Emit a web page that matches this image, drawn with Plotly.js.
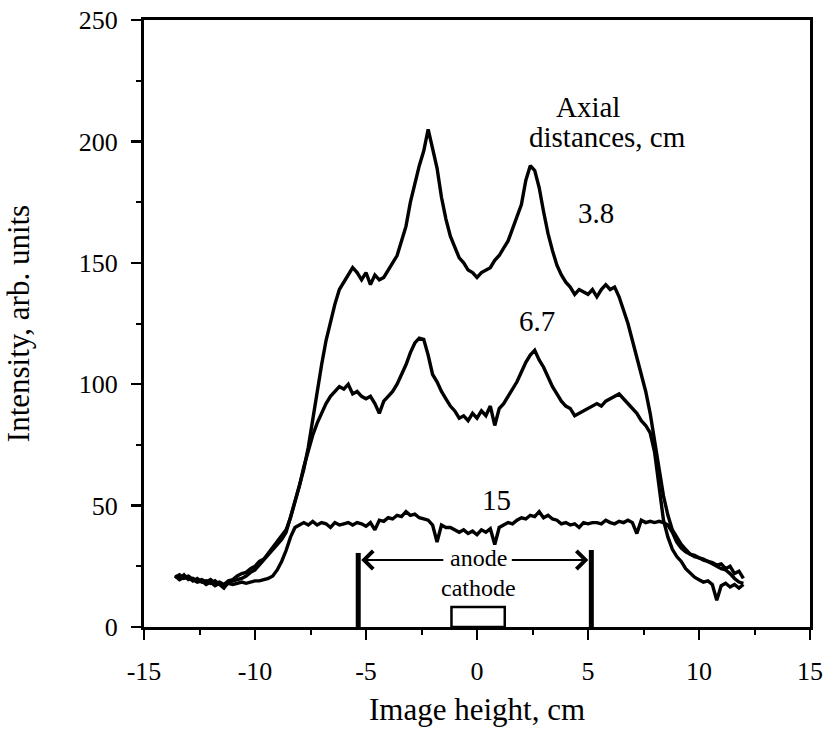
<!DOCTYPE html>
<html>
<head>
<meta charset="utf-8">
<script src="https://cdn.plot.ly/plotly-3.0.1.min.js"></script>
<style>
  html, body { margin: 0; padding: 0; background: #ffffff; }
  #chart { width: 823px; height: 739px; }
</style>
</head>
<body>
<div id="chart"></div>
<script>
// Image height positions (cm)
const imageHeight = [
  -13.6,-13.4,-13.2,-13.0,-12.8,-12.6,-12.4,-12.2,-12.0,-11.8,
  -11.6,-11.4,-11.2,-11.0,-10.8,-10.6,-10.4,-10.2,-10.0,-9.8,
  -9.6,-9.4,-9.2,-9.0,-8.8,-8.6,-8.4,-8.2,-8.0,-7.8,
  -7.6,-7.4,-7.2,-7.0,-6.8,-6.6,-6.4,-6.2,-6.0,-5.8,
  -5.6,-5.4,-5.2,-5.0,-4.8,-4.6,-4.4,-4.2,-4.0,-3.8,
  -3.6,-3.4,-3.2,-3.0,-2.8,-2.6,-2.4,-2.2,-2.0,-1.8,
  -1.6,-1.4,-1.2,-1.0,-0.8,-0.6,-0.4,-0.2,0.0,0.2,
  0.4,0.6,0.8,1.0,1.2,1.4,1.6,1.8,2.0,2.2,
  2.4,2.6,2.8,3.0,3.2,3.4,3.6,3.8,4.0,4.2,
  4.4,4.6,4.8,5.0,5.2,5.4,5.6,5.8,6.0,6.2,
  6.4,6.6,6.8,7.0,7.2,7.4,7.6,7.8,8.0,8.2,
  8.4,8.6,8.8,9.0,9.2,9.4,9.6,9.8,10.0,10.2,
  10.4,10.6,10.8,11.0,11.2,11.4,11.6,11.8,12.0
];

// Intensity at axial distance 3.8 cm
const intensity38 = [
  21,20,21.5,19.5,20,19,19.5,18.5,19.5,18,
  18.5,17.5,19,19.5,21,22,22.5,24,25,27,
  28,30.5,33,35,37.5,40,45,52,58,65,
  74,86,98,108,118,126,133,139,142,145,
  148,146,143,146,141,145,143,144,147,150,
  153,159,165,175,183,190,196,205,197,189,
  177,168,161,156,152,150,147,146,144,146,
  147,148,151,153,156,159,164,169,174,184,
  190,188,181,171,162,155,149,145,142,140,
  137,139,138,137,139,136,139,141,139,140,
  136,131,125,118,111,105,97,88,76,64,
  54,46,40,37,34,32,30,29,28.5,27.5,
  27,26,25,24,23.5,22,20,18.5,18
];

// Intensity at axial distance 6.7 cm
const intensity67 = [
  20.5,21.5,20,20.5,19,20,18.5,19,18,19,
  17.5,16,18.5,19,19.5,20,21,22.5,23.5,25.5,
  27.5,29.5,31.5,34,36,39,45,51,58,66,
  73,79,84,88,92,95,97,99,98,100,
  96,97,95,94,95,92,88,93,95,97,
  100,104,108,113,117,119,118.5,112,104,101,
  97,94,91,89,86,87,85,88,86,89,
  87,91,83,90,92,95,98,101,105,109,
  112,114,110,107,103,99,96,93,91,90,
  87,88,89,90,91,92,91,93,94,95,
  96,94,92,90,88,85,83,80,72,58,
  44,37,32,29,27,24,22,20.5,19.5,18.5,
  19,17.5,11,17,18,16.5,17.5,16,17.5
];

// Intensity at axial distance 15 cm
const intensity15 = [
  21,19.5,20.5,21,19.5,18.5,19,17.5,18.5,17,
  18,16.5,18,17.5,18,18.5,18,18.5,19,19,
  19.5,20,21,23.5,27,31.5,37,41,42,43,
  42,43.5,42,43,42.5,41,43,42,42.5,43,
  42,43,42.5,41.5,43,40,44,43.5,45,44.5,
  46,45.5,47.5,46,46.5,45,44.5,44,42,35,
  42,41,41,40,39,40,38.5,39.5,38,40,
  39,40.5,34,41,42,43,42.5,44,45,44.5,
  46,45.5,47.5,45,46,44.5,44,42.5,43,42,
  42.5,41,43,42.5,43,43,42.5,44,43,42.5,
  43.5,43,44,43,38.5,44,43,43.5,43,43.5,
  43,42,39,35,32.5,31,30,29.5,28.5,28,
  27,26.5,25.5,26,24,25,22,23,20
];

const curveLabels = ['3.8', '6.7', '15'];
const labelX = [5.36, 2.7, 0.86];
const labelY = [170.5, 126, 52.3];

// Axis ticks
const xTickVals = [-15, -10, -5, 0, 5, 10, 15];
const xTickText = ['-15', '-10', '-5', '0', '5', '10', '15'];
const yTickVals = [0, 50, 100, 150, 200, 250];
const yTickText = ['0', '50', '100', '150', '200', '250'];

// Electrode markers (cm / arb. units)
const anodeEdges = [-5.35, 5.15];
const anodeBarTops = [30.5, 31.7];
const anodeArrowY = 27.6;
const anodeTextGap = [-1.45, 1.5];
const cathodeEdges = [-1.15, 1.25];
const cathodeTop = 8.2;

const FONT = 'Liberation Serif, Times New Roman, serif';

const lineStyle = {color: '#000000', width: 3.4};
const traces = [intensity38, intensity67, intensity15].map((ys, i) => ({
  type: 'scatter', mode: 'lines', x: imageHeight, y: ys,
  name: curveLabels[i], line: lineStyle, hoverinfo: 'skip'
}));

const annotations = [];
curveLabels.forEach((t, i) => annotations.push({
  x: labelX[i], y: labelY[i], xref: 'x', yref: 'y', text: t, showarrow: false,
  font: {family: FONT, size: 29, color: '#000'}
}));
annotations.push({x: 5.0, y: 214, xref: 'x', yref: 'y', text: 'Axial', showarrow: false,
  font: {family: FONT, size: 29, color: '#000'}});
annotations.push({x: 5.87, y: 201.8, xref: 'x', yref: 'y', text: 'distances, cm', showarrow: false,
  font: {family: FONT, size: 29, color: '#000'}});
annotations.push({x: 0.05, y: 28.6, xref: 'x', yref: 'y', text: 'anode', showarrow: false,
  font: {family: FONT, size: 24, color: '#000'}});
annotations.push({x: 0.05, y: 16, xref: 'x', yref: 'y', text: 'cathode', showarrow: false,
  font: {family: FONT, size: 24, color: '#000'}});
// double arrow
[0, 1].forEach(k => annotations.push({
  x: anodeEdges[k], y: anodeArrowY, ax: anodeTextGap[k], ay: anodeArrowY,
  xref: 'x', yref: 'y', axref: 'x', ayref: 'y', text: '', showarrow: true,
  arrowhead: 4, arrowsize: 1.6, arrowwidth: 2.2, arrowcolor: '#000', standoff: 3
}));

const shapes = [
  {type: 'line', xref: 'x', yref: 'y', x0: anodeEdges[0], x1: anodeEdges[0], y0: 0, y1: anodeBarTops[0],
   line: {color: '#000', width: 5}},
  {type: 'line', xref: 'x', yref: 'y', x0: anodeEdges[1], x1: anodeEdges[1], y0: 0, y1: anodeBarTops[1],
   line: {color: '#000', width: 5}},
  {type: 'rect', xref: 'x', yref: 'y', x0: cathodeEdges[0], x1: cathodeEdges[1], y0: 0, y1: cathodeTop,
   line: {color: '#000', width: 2.5}, fillcolor: 'rgba(0,0,0,0)'}
];

const axisCommon = {
  showgrid: false, zeroline: false, showline: true, mirror: true,
  linecolor: '#000', linewidth: 3,
  ticks: 'outside', ticklen: 10, tickwidth: 2.5, tickcolor: '#000',
  tickfont: {family: FONT, size: 26, color: '#000'}
};

const layout = {
  width: 823, height: 739,
  margin: {l: 144, r: 13, t: 20, b: 112},
  paper_bgcolor: '#fff', plot_bgcolor: '#fff',
  showlegend: false,
  font: {family: FONT, color: '#000'},
  xaxis: Object.assign({}, axisCommon, {
    range: [-15, 15], tickmode: 'array', tickvals: xTickVals, ticktext: xTickText,
    ticklabelstandoff: 9,
    minor: {dtick: 2.5, tick0: -15, ticks: 'outside', ticklen: 5, tickwidth: 2, tickcolor: '#000', showgrid: false},
    title: {text: 'Image height, cm', font: {family: FONT, size: 31, color: '#000'}, standoff: 14}
  }),
  yaxis: Object.assign({}, axisCommon, {
    range: [0, 250], tickmode: 'array', tickvals: yTickVals, ticktext: yTickText,
    ticklabelstandoff: 8,
    minor: {dtick: 25, tick0: 0, ticks: 'outside', ticklen: 5, tickwidth: 2, tickcolor: '#000', showgrid: false},
    title: {text: 'Intensity, arb. units', font: {family: FONT, size: 31, color: '#000'}, standoff: 40}
  }),
  annotations: annotations,
  shapes: shapes
};

Plotly.newPlot('chart', traces, layout, {staticPlot: true, displayModeBar: false});
</script>
</body>
</html>
